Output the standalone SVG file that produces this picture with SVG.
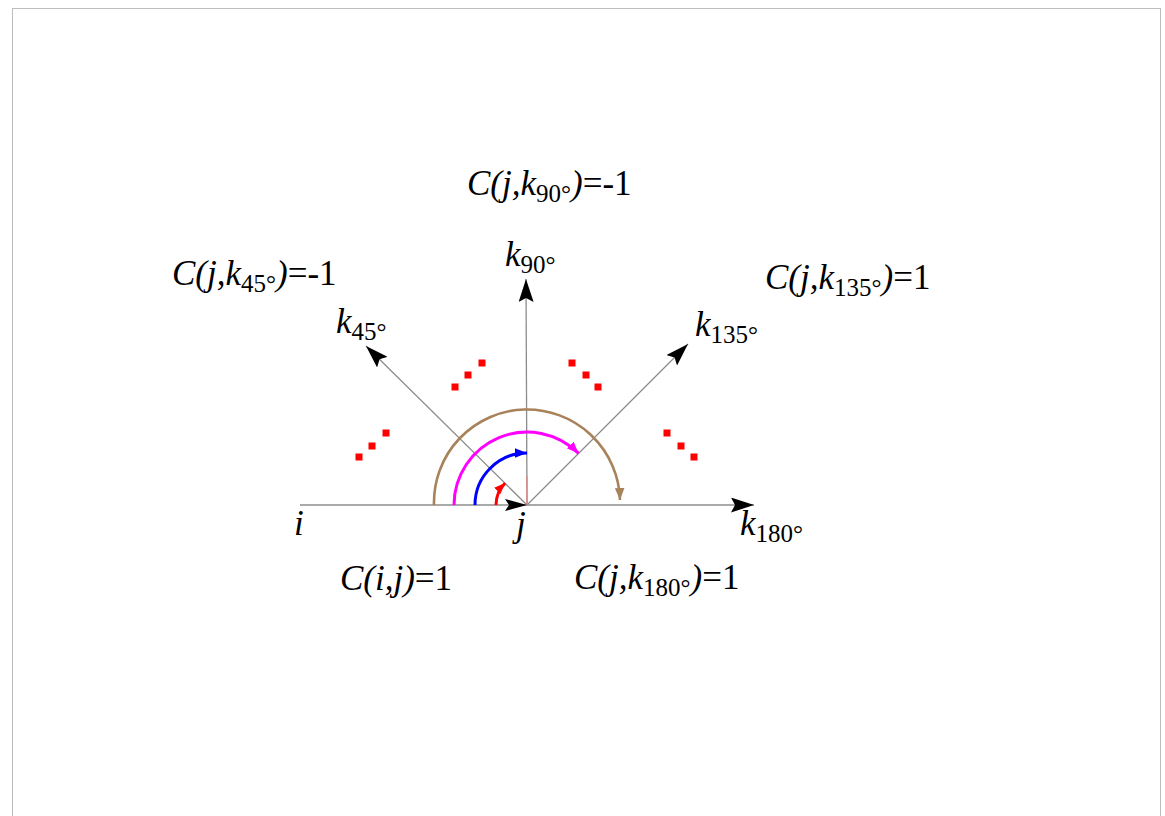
<svg xmlns="http://www.w3.org/2000/svg" width="1165" height="816" viewBox="0 0 1165 816">
<style>
.ax{stroke:#8c8c8c;stroke-width:1.3;fill:none}
.ah{fill:#000}
.t{font-family:"Liberation Serif","Times New Roman",serif;font-size:35px;font-style:italic;fill:#000}
.r{font-style:normal}
.s{font-style:normal;font-size:25px}
.dot{fill:#f00}
</style>
<defs>
<marker id="mBrown" markerUnits="userSpaceOnUse" markerWidth="12" markerHeight="12" refX="10" refY="5" orient="auto" viewBox="0 0 10 10"><path d="M0,1 L10,5 L0,9 Z" fill="#a8825a"/></marker>
<marker id="mMag" markerUnits="userSpaceOnUse" markerWidth="12" markerHeight="12" refX="10" refY="5" orient="auto" viewBox="0 0 10 10"><path d="M0,1 L10,5 L0,9 Z" fill="#ff00ff"/></marker>
<marker id="mBlue" markerUnits="userSpaceOnUse" markerWidth="12" markerHeight="12" refX="10" refY="5" orient="auto" viewBox="0 0 10 10"><path d="M0,1 L10,5 L0,9 Z" fill="#0000ff"/></marker>
<marker id="mRed" markerUnits="userSpaceOnUse" markerWidth="11" markerHeight="11" refX="10" refY="5" orient="auto" viewBox="0 0 10 10"><path d="M0,1 L10,5 L0,9 Z" fill="#ff0000"/></marker>
<marker id="mBlk" markerUnits="userSpaceOnUse" markerWidth="23" markerHeight="15" refX="23" refY="7.5" orient="auto" viewBox="0 0 23 15"><path d="M0,0 L23,7.5 L0,15 L4,7.5 Z" fill="#000"/></marker>
</defs>
<rect x="12.5" y="8.5" width="1148" height="900" fill="#fff" stroke="#bdbdbd" stroke-width="1"/>
<g id="connectors">
<line class="ax" x1="300" y1="505" x2="754" y2="505" marker-end="url(#mBlk)"/>
<line class="ax" x1="527" y1="505" x2="526" y2="279" marker-end="url(#mBlk)"/>
<line class="ax" x1="527" y1="505" x2="366" y2="346" marker-end="url(#mBlk)"/>
<line class="ax" x1="527" y1="505" x2="688" y2="344" marker-end="url(#mBlk)"/>
<line x1="527" y1="476" x2="527" y2="505" stroke="#f08080" stroke-width="1.2"/>
<path d="M505,499 L527,505 L505,511 L509,505 Z" class="ah"/>
</g>
<g id="arcs">
<path d="M434,505 A93,93 0 0 1 620,500" fill="none" stroke="#a8825a" stroke-width="2.6" marker-end="url(#mBrown)"/>
<path d="M454,505 A73,73 0 0 1 578.6,453.4" fill="none" stroke="#ff00ff" stroke-width="3" marker-end="url(#mMag)"/>
<path d="M475,505 A52,52 0 0 1 527,453" fill="none" stroke="#0000ff" stroke-width="3" marker-end="url(#mBlue)"/>
<path d="M496,505 A31,31 0 0 1 505.1,483.1" fill="none" stroke="#ff0000" stroke-width="3" marker-end="url(#mRed)"/>
</g>
<g id="dots">
<rect class="dot" x="355.5" y="453.5" width="7" height="7"/>
<rect class="dot" x="368.5" y="442.5" width="7" height="7"/>
<rect class="dot" x="382.5" y="429.5" width="7" height="7"/>
<rect class="dot" x="451.5" y="383.5" width="7" height="7"/>
<rect class="dot" x="464.5" y="371.5" width="7" height="7"/>
<rect class="dot" x="478.5" y="359.5" width="7" height="7"/>
<rect class="dot" x="568.5" y="359.5" width="7" height="7"/>
<rect class="dot" x="582.5" y="371.5" width="7" height="7"/>
<rect class="dot" x="594.5" y="383.5" width="7" height="7"/>
<rect class="dot" x="663.5" y="429.5" width="7" height="7"/>
<rect class="dot" x="677.5" y="442.5" width="7" height="7"/>
<rect class="dot" x="690.5" y="453.5" width="7" height="7"/>
</g>
<g id="node-i"><text class="t" x="294" y="535">i</text></g>
<g id="node-j"><text class="t" x="516" y="536">j</text></g>
<g id="node-k180"><text class="t" x="740" y="535">k<tspan class="s" dy="7">180°</tspan></text></g>
<g id="node-k90"><text class="t" x="505" y="266">k<tspan class="s" dy="7">90°</tspan></text></g>
<g id="node-k45"><text class="t" x="336" y="333">k<tspan class="s" dy="7">45°</tspan></text></g>
<g id="node-k135"><text class="t" x="695" y="336">k<tspan class="s" dy="7">135°</tspan></text></g>
<g id="label-c90"><text class="t" x="467" y="195">C(j,k<tspan class="s" dy="7">90°</tspan><tspan dy="-7">)</tspan><tspan class="r">=-1</tspan></text></g>
<g id="label-c45"><text class="t" x="172" y="285">C(j,k<tspan class="s" dy="7">45°</tspan><tspan dy="-7">)</tspan><tspan class="r">=-1</tspan></text></g>
<g id="label-c135"><text class="t" x="765" y="289">C(j,k<tspan class="s" dy="7">135°</tspan><tspan dy="-7">)</tspan><tspan class="r">=1</tspan></text></g>
<g id="label-cij"><text class="t" x="340" y="590">C(i,j)<tspan class="r">=1</tspan></text></g>
<g id="label-c180"><text class="t" x="574" y="589">C(j,k<tspan class="s" dy="7">180°</tspan><tspan dy="-7">)</tspan><tspan class="r">=1</tspan></text></g>
</svg>
